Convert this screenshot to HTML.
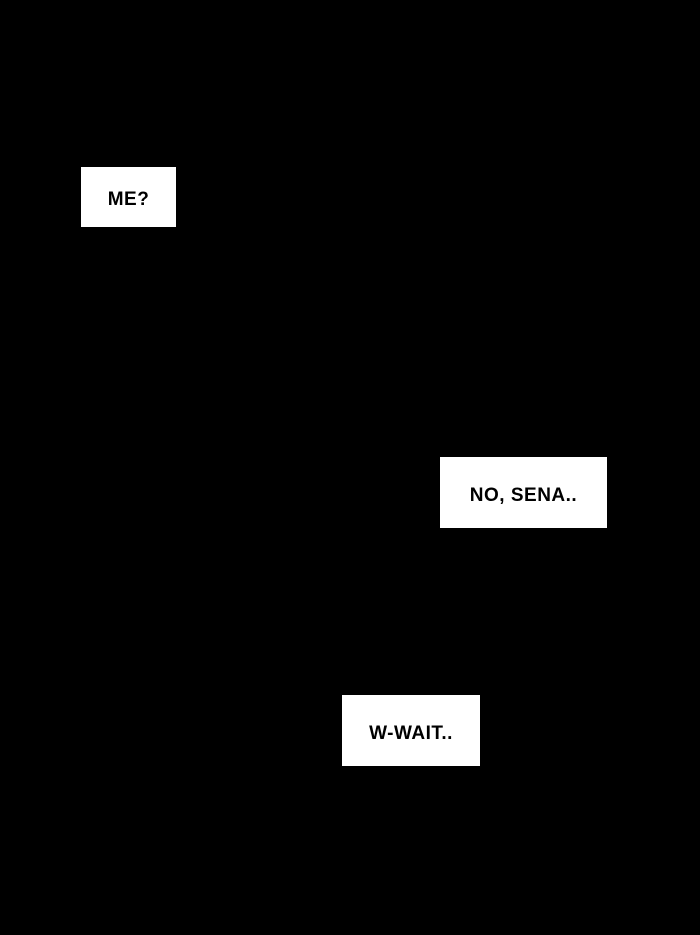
<!DOCTYPE html>
<html><head><style>
html,body{margin:0;padding:0;background:#000;width:700px;height:935px;overflow:hidden}
.b{position:absolute;background:#fff;color:#000;font-family:"Liberation Sans",sans-serif;font-weight:bold;font-size:19px;display:flex;align-items:center;justify-content:center;letter-spacing:0.5px;box-sizing:border-box;padding-top:6px}
</style></head><body>
<div class="b" style="left:81px;top:167px;width:95px;height:60px">ME?</div>
<div class="b" style="left:440px;top:457px;width:167px;height:71px">NO, SENA..</div>
<div class="b" style="left:342px;top:695px;width:138px;height:71px">W-WAIT..</div>
</body></html>
